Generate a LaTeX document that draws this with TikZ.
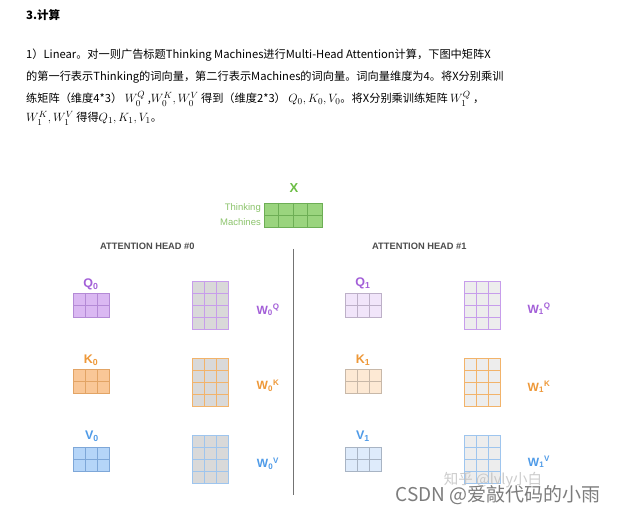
\documentclass[tikz,border=0pt]{standalone}
\usepackage[no-math]{fontspec}
\setmainfont{Noto Sans CJK SC}
\newfontfamily\lblfont{Liberation Sans}
\usetikzlibrary{calc}
\definecolor{purpT}{HTML}{A35FD8}
\definecolor{orngT}{HTML}{EE9838}
\definecolor{bluT}{HTML}{4F9BE8}
\definecolor{grnT}{HTML}{6CBE45}
\definecolor{grnL}{HTML}{8CC46C}
\definecolor{q0fill}{HTML}{DAB8F2}
\definecolor{q0line}{HTML}{B48AD6}
\definecolor{k0fill}{HTML}{F9C797}
\definecolor{k0line}{HTML}{E2A465}
\definecolor{v0fill}{HTML}{B5D5F8}
\definecolor{v0line}{HTML}{7EA7D8}
\definecolor{q1fill}{HTML}{F1E5FA}
\definecolor{q1line}{HTML}{BDB0C8}
\definecolor{k1fill}{HTML}{FDE9D4}
\definecolor{k1line}{HTML}{C8B8A8}
\definecolor{v1fill}{HTML}{DEEBFB}
\definecolor{v1line}{HTML}{A8B4C4}
\definecolor{wq}{HTML}{C79DEB}
\definecolor{wk}{HTML}{F2B36A}
\definecolor{wv}{HTML}{9EC5EE}
\definecolor{w0fill}{HTML}{D9D9D9}
\definecolor{w1fill}{HTML}{EDEDED}
\definecolor{xfill}{HTML}{9AD47E}
\definecolor{xline}{HTML}{6DAE55}
\newcommand\gridmat[8]{% name, left, top, cols, rows, cell width, fill, line
  \node[draw=#8, fill=#7, line width=0.9pt, inner sep=0pt, outer sep=0pt,
        minimum width=#4*#6pt, minimum height=#5*12pt, anchor=north west] (#1) at (#2,#3) {};
  \pgfmathtruncatemacro\gmC{#4-1}\pgfmathtruncatemacro\gmR{#5-1}
  \foreach \i in {1,...,\gmC}{\pgfmathsetmacro\gmf{\i/#4}
    \draw[#8, line width=0.9pt] ($(#1.north west)!\gmf!(#1.north east)$) -- ($(#1.south west)!\gmf!(#1.south east)$);}
  \foreach \i in {1,...,\gmR}{\pgfmathsetmacro\gmf{\i/#5}
    \draw[#8, line width=0.9pt] ($(#1.north west)!\gmf!(#1.south west)$) -- ($(#1.north east)!\gmf!(#1.south east)$);}
}
\newcommand\mth[1]{{\fontsize{13}{14}\selectfont$#1$}}
\tikzset{
  para/.style={anchor=base west, inner sep=0pt, font=\fontsize{11.2}{12}\selectfont},
  lbl/.style={inner sep=0pt, font=\lblfont\bfseries\fontsize{12.5}{13}\selectfont},
  wlbl/.style={inner sep=0pt, font=\lblfont\bfseries\fontsize{12}{13}\selectfont},
  head/.style={anchor=west, inner sep=0pt, text=black!70, font=\lblfont\bfseries\fontsize{9.3}{10}\selectfont},
}
\begin{document}
\begin{tikzpicture}[x=1pt,y=-1pt]
\useasboundingbox[fill=white] (0,0) rectangle (619,513);
% text block
\node[anchor=base west, inner sep=0pt, font=\bfseries\fontsize{11.5}{13}\selectfont] (title) at (26,20) {3.计算};
\node[para] (l1) at (26,59) {1）Linear。对一则广告标题Thinking Machines进行Multi-Head Attention计算，下图中矩阵X};
\node[para] (l2) at (26,81) {的第一行表示Thinking的词向量，第二行表示Machines的词向量。词向量维度为4。将X分别乘训};
\node[para] (l3) at (26,103) {练矩阵（维度4*3） \mth{W_0^Q} ,\mth{W_0^K,W_0^V} 得到（维度2*3） \mth{Q_0,K_0,V_0}。将X分别乘训练矩阵 \mth{W_1^Q} ，};
\node[para] (l4) at (26,122) {\mth{W_1^K,W_1^V} 得得\mth{Q_1,K_1,V_1}。};
% X
\node[inner sep=0pt, text=grnT, font=\lblfont\bfseries\fontsize{13}{13}\selectfont] (xl) at (294,188) {X};
\gridmat{xm}{264}{203}{4}{2}{14.5}{xfill}{xline}
\node[anchor=east, inner sep=0pt, text=grnL, font=\lblfont\fontsize{9.5}{10}\selectfont] (think) at (261,208) {Thinking};
\node[anchor=east, inner sep=0pt, text=grnL, font=\lblfont\fontsize{9.5}{10}\selectfont] (mach) at (261,222) {Machines};
% divider
\coordinate (dtop) at (293,249);
\coordinate (dbot) at (293,495);
\draw[black!55, line width=0.9pt] (dtop) -- (dbot);
\node[head] (h0) at (100,246) {ATTENTION HEAD \#0};
\node[head] (h1) at (372,246) {ATTENTION HEAD \#1};
% head 0
\node[lbl, text=purpT] (q0l) at (91,284) {Q\textsubscript{0}};
\gridmat{q0}{73}{293}{3}{2}{12.3}{q0fill}{q0line}
\gridmat{wq0}{192}{281}{3}{4}{12.3}{w0fill}{wq}
\node[wlbl, text=purpT] (wq0l) at (268,310) {W\textsubscript{0}\textsuperscript{Q}};
\node[lbl, text=orngT] (k0l) at (91,360) {K\textsubscript{0}};
\gridmat{k0}{73}{369}{3}{2}{12.3}{k0fill}{k0line}
\gridmat{wk0}{192}{358}{3}{4}{12.3}{w0fill}{wk}
\node[wlbl, text=orngT] (wk0l) at (268,386) {W\textsubscript{0}\textsuperscript{K}};
\node[lbl, text=bluT] (v0l) at (92,436) {V\textsubscript{0}};
\gridmat{v0}{73}{447}{3}{2}{12.3}{v0fill}{v0line}
\gridmat{wv0}{192}{435}{3}{4}{12.3}{w0fill}{wv}
\node[wlbl, text=bluT] (wv0l) at (268,464) {W\textsubscript{0}\textsuperscript{V}};
% head 1
\node[lbl, text=purpT] (q1l) at (363,283) {Q\textsubscript{1}};
\gridmat{q1}{345}{293}{3}{2}{12.3}{q1fill}{q1line}
\gridmat{wq1}{464}{281}{3}{4}{12.3}{w1fill}{wq}
\node[wlbl, text=purpT] (wq1l) at (539,309) {W\textsubscript{1}\textsuperscript{Q}};
\node[lbl, text=orngT] (k1l) at (363,360) {K\textsubscript{1}};
\gridmat{k1}{345}{369}{3}{2}{12.3}{k1fill}{k1line}
\gridmat{wk1}{464}{358}{3}{4}{12.3}{w1fill}{wk}
\node[wlbl, text=orngT] (wk1l) at (539,387) {W\textsubscript{1}\textsuperscript{K}};
\node[lbl, text=bluT] (v1l) at (363,436) {V\textsubscript{1}};
\gridmat{v1}{345}{447}{3}{2}{12.3}{v1fill}{v1line}
\gridmat{wv1}{464}{435}{3}{4}{12.3}{w1fill}{wv}
\node[wlbl, text=bluT] (wv1l) at (539,462) {W\textsubscript{1}\textsuperscript{V}};
% watermarks
\node[inner sep=0pt, text=black!25, opacity=0.8, font=\fontsize{14.5}{15}\selectfont] (zh) at (493,480) {知乎 @lvly小白};
\node[inner sep=0pt, text=black!60, opacity=0.85, font=\fontsize{19}{20}\selectfont] (csdn) at (498,495) {CSDN @爱敲代码的小雨};
\end{tikzpicture}
\end{document}
